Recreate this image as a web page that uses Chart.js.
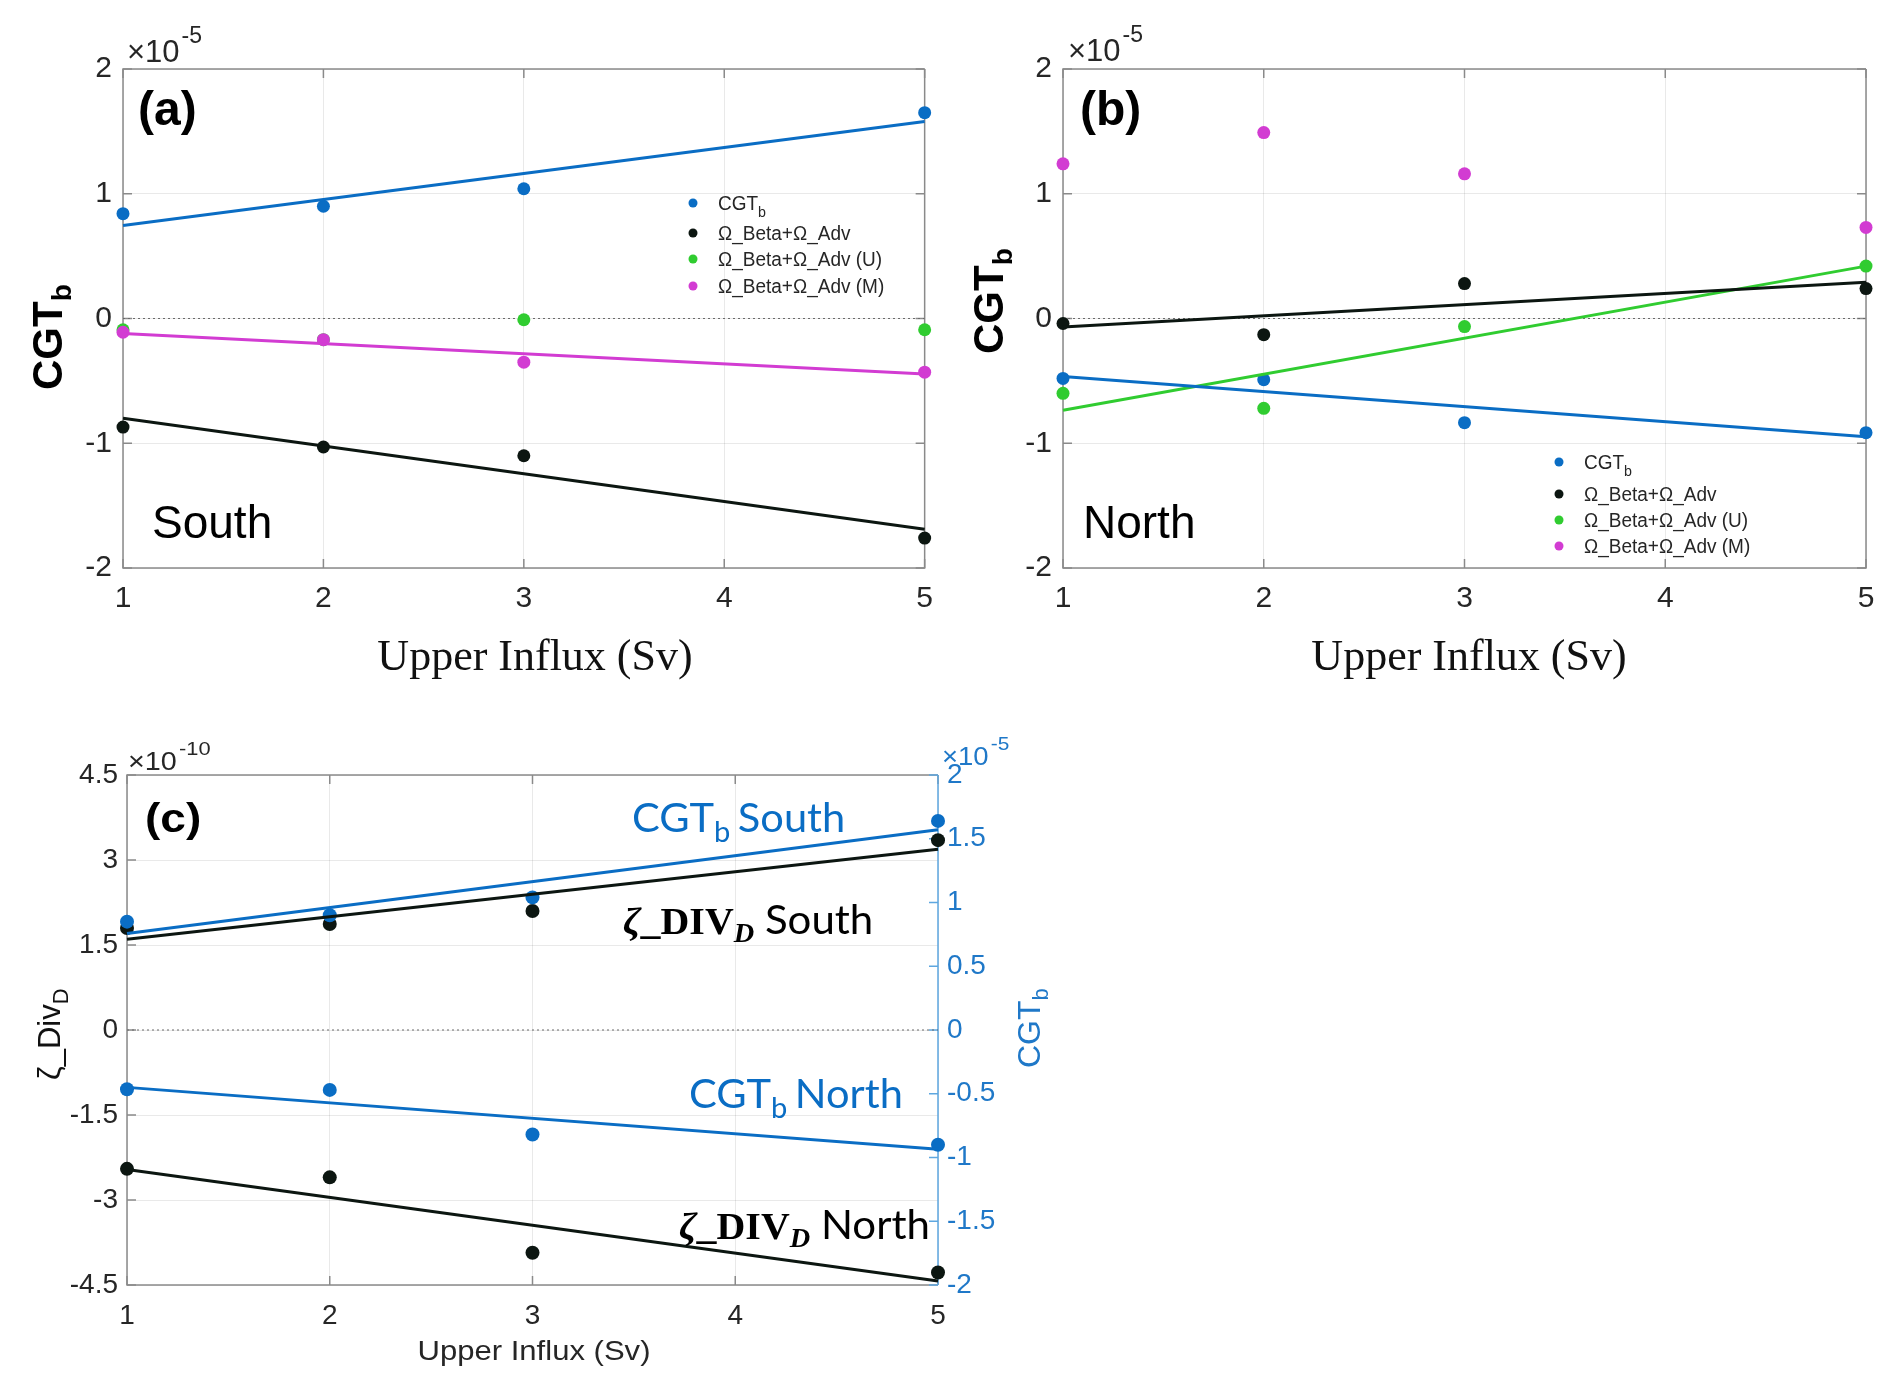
<!DOCTYPE html>
<html>
<head>
<meta charset="utf-8">
<script src="https://cdn.jsdelivr.net/npm/chart.js@4.4.1/dist/chart.umd.min.js"></script>
<style>
html, body { margin: 0; padding: 0; background: #fff; }
#wrap { position: relative; width: 1892px; height: 1384px; overflow: hidden; }
canvas { position: absolute; }
</style>
</head>
<body>
<div id="wrap">
  <canvas id="panelA" width="946" height="700" style="left:0;top:0"></canvas>
  <canvas id="panelB" width="946" height="700" style="left:946px;top:0"></canvas>
  <canvas id="panelC" width="1100" height="684" style="left:0;top:700px"></canvas>
</div>
<script>
// ---- data ----
const influx = [1, 2, 3, 5];          // Upper Influx (Sv) of the runs
const fitX = [1, 5];                  // ends of the fitted lines
const zeroRef = [0, 0];

// (a) South, units of 1e-5
const southCGT = [0.84, 0.90, 1.04, 1.65];
const southCGTFit = [0.745, 1.58];
const southBetaAdv = [-0.87, -1.03, -1.10, -1.76];
const southBetaAdvFit = [-0.80, -1.69];
const southBetaAdvU = [-0.09, -0.17, -0.01, -0.09];
const southBetaAdvM = [-0.11, -0.17, -0.35, -0.43];
const southBetaAdvMFit = [-0.12, -0.445];

// (b) North, units of 1e-5
const northCGT = [-0.48, -0.49, -0.835, -0.915];
const northCGTFit = [-0.465, -0.948];
const northBetaAdv = [-0.04, -0.13, 0.28, 0.24];
const northBetaAdvFit = [-0.068, 0.29];
const northBetaAdvU = [-0.60, -0.72, -0.065, 0.42];
const northBetaAdvUFit = [-0.735, 0.42];
const northBetaAdvM = [1.24, 1.49, 1.16, 0.73];

// (c) zeta_DIV_D (units of 1e-10, left) and CGT_b (units of 1e-5, right)
const zetaSouth = [1.80, 1.87, 2.10, 3.35];
const zetaSouthFit = [1.60, 3.19];
const zetaNorth = [-2.45, -2.60, -3.93, -4.28];
const zetaNorthFit = [-2.46, -4.43];
const cgtSouthC = [0.85, 0.90, 1.04, 1.64];
const cgtSouthCFit = [0.757, 1.57];
const cgtNorthC = [-0.465, -0.47, -0.82, -0.90];
const cgtNorthCFit = [-0.45, -0.935];

const legendLabels = ['CGT', 'Ω_Beta+Ω_Adv', 'Ω_Beta+Ω_Adv (U)', 'Ω_Beta+Ω_Adv (M)'];

// ---- styling ----
const SANS = '"Liberation Sans", Arial, sans-serif';
const SERIF = '"Liberation Serif", "Times New Roman", serif';
const CAL = 'Lato, "Open Sans", sans-serif';
const BLUE = '#0a6dc4';
const BLACK = '#0c1611';
const GREEN = '#30cc30';
const MAG = '#d23cd2';
const TXT = '#262626';
const BOX = '#8a8a8a';
const AXBLUE = '#5ea7e0';
const TICKBLUE = '#1f78c8';
const GRID = 'rgba(0,0,0,0.085)';

function pts(xs, ys) {
    return xs.map((x, i) => ({ x: x, y: ys[i] }));
}

function dots(ys, color, order, r, axis) {
    return {
        data: pts(influx, ys), showLine: false, order: order,
        pointRadius: r, pointBackgroundColor: color, pointBorderWidth: 0,
        borderColor: color, backgroundColor: color, clip: false,
        yAxisID: axis || 'y',
    };
}

function fitLine(ys, color, axis) {
    return {
        data: pts(fitX, ys), showLine: true, order: 0, pointRadius: 0,
        borderColor: color, borderWidth: 3, tension: 0, clip: false,
        yAxisID: axis || 'y',
    };
}

function zeroLine(axis) {
    return {
        data: pts(fitX, zeroRef), showLine: true, order: 20, pointRadius: 0,
        borderColor: '#6a6a6a', borderWidth: 1.2, borderDash: [2, 3],
        yAxisID: axis || 'y',
    };
}

// write several pieces of text one after another (for subscripts etc.)
function rich(ctx, parts, x, y, opt) {
    opt = opt || {};
    ctx.save();
    ctx.translate(x, y);
    if (opt.rot) ctx.rotate(opt.rot);
    ctx.scale(opt.sx || 1, 1);
    ctx.textBaseline = 'alphabetic';
    ctx.textAlign = 'left';
    let w = 0;
    parts.forEach(p => { ctx.font = p.font; w += ctx.measureText(p.t).width + (p.dx || 0); });
    let cx = opt.align === 'center' ? -w / 2 : (opt.align === 'right' ? -w : 0);
    parts.forEach(p => {
        ctx.font = p.font;
        ctx.fillStyle = p.color || TXT;
        cx += p.dx || 0;
        ctx.fillText(p.t, cx, p.dy || 0);
        cx += ctx.measureText(p.t).width;
    });
    ctx.restore();
}

// box round the axes and MATLAB style inward ticks
function drawBox(chart, rightColor, rightScale) {
    const ctx = chart.ctx;
    const a = chart.chartArea;
    const xs = chart.scales.x, ys = chart.scales.y;
    ctx.save();
    ctx.lineWidth = 1.5;
    ctx.strokeStyle = BOX;
    ctx.beginPath();
    ctx.moveTo(a.right, a.top); ctx.lineTo(a.left, a.top);
    ctx.lineTo(a.left, a.bottom); ctx.lineTo(a.right, a.bottom);
    if (!rightScale) ctx.lineTo(a.right, a.top);
    ctx.stroke();
    const tl = 9;
    ctx.beginPath();
    xs.ticks.forEach(t => {
        const px = xs.getPixelForValue(t.value);
        ctx.moveTo(px, a.bottom); ctx.lineTo(px, a.bottom - tl);
        ctx.moveTo(px, a.top); ctx.lineTo(px, a.top + tl);
    });
    ys.ticks.forEach(t => {
        const py = ys.getPixelForValue(t.value);
        ctx.moveTo(a.left, py); ctx.lineTo(a.left + tl, py);
        if (!rightScale) { ctx.moveTo(a.right, py); ctx.lineTo(a.right - tl, py); }
    });
    ctx.stroke();
    if (rightScale) {
        ctx.strokeStyle = rightColor;
        ctx.beginPath();
        ctx.moveTo(a.right, a.top); ctx.lineTo(a.right, a.bottom);
        rightScale.ticks.forEach(t => {
            const py = rightScale.getPixelForValue(t.value);
            ctx.moveTo(a.right, py); ctx.lineTo(a.right - tl, py);
        });
        ctx.stroke();
    }
    ctx.restore();
}

function drawLegend(ctx, x, rows, colors) {
    rows.forEach((ry, i) => {
        ctx.beginPath();
        ctx.fillStyle = colors[i];
        ctx.arc(x, ry, 4.5, 0, Math.PI * 2);
        ctx.fill();
        const parts = [{ t: legendLabels[i], font: '20px ' + SANS }];
        if (i === 0) parts.push({ t: 'b', font: '15px ' + SANS, dy: 7 });
        rich(ctx, parts, x + 25, ry + 7, { sx: 0.95 });
    });
}

function tickFmt(v) {
    return String(Math.round(v * 100) / 100);
}

function xScale(size, pad, h) {
    return {
        type: 'linear', min: 1, max: 5,
        ticks: { stepSize: 1, color: TXT, padding: pad, font: { family: SANS, size: size }, callback: tickFmt },
        grid: { color: GRID, drawTicks: false },
        border: { display: false },
        afterFit: s => { s.height = h; },
    };
}

function yScale(min, max, step, size, pad, w, color) {
    return {
        type: 'linear', min: min, max: max,
        ticks: { stepSize: step, color: color || TXT, padding: pad, font: { family: SANS, size: size }, callback: tickFmt },
        grid: { color: GRID, drawTicks: false },
        border: { display: false },
        afterFit: s => { s.width = w; },
    };
}

function baseOptions(padding, scales) {
    return {
        responsive: false, animation: false, events: [],
        layout: { padding: padding },
        plugins: { legend: { display: false }, tooltip: { enabled: false } },
        scales: scales,
    };
}

function exponent(ctx, x, y, exp, big, small, color, sx) {
    rich(ctx, [
        { t: '×10', font: big + 'px ' + SANS, color: color },
        { t: exp, font: small + 'px ' + SANS, color: color, dy: -big * 0.62, dx: 2 },
    ], x, y, { sx: sx || 1 });
}

// ---- (a) South ----
new Chart(document.getElementById('panelA'), {
    type: 'scatter',
    data: { datasets: [
        zeroLine(),
        dots(southCGT, BLUE, 4, 6.5),
        dots(southBetaAdv, BLACK, 3, 6.5),
        dots(southBetaAdvU, GREEN, 2, 6.5),
        dots(southBetaAdvM, MAG, 1, 6.5),
        fitLine(southCGTFit, BLUE),
        fitLine(southBetaAdvFit, BLACK),
        fitLine(southBetaAdvMFit, MAG),
    ] },
    options: baseOptions({ left: 0, top: 69, right: 20, bottom: 0 }, {
        x: xScale(30, 13, 132),
        y: yScale(-2, 2, 1, 30, 11, 123),
    }),
    plugins: [{
        id: 'decorA',
        beforeDatasetsDraw: chart => drawBox(chart),
        afterDraw: chart => {
            const ctx = chart.ctx;
            exponent(ctx, 127, 62, '-5', 31, 23, TXT);
            rich(ctx, [{ t: '(a)', font: 'bold 48px ' + SANS, color: '#000' }], 138, 125);
            rich(ctx, [{ t: 'South', font: '46px ' + SANS, color: '#000' }], 152, 538);
            drawLegend(ctx, 693, [203, 233, 259, 286], [BLUE, BLACK, GREEN, MAG]);
            rich(ctx, [
                { t: 'CGT', font: 'bold 42px ' + SANS, color: '#000' },
                { t: 'b', font: 'bold 28px ' + SANS, color: '#000', dy: 9 },
            ], 62, 390, { rot: -Math.PI / 2 });
            rich(ctx, [{ t: 'Upper Influx (Sv)', font: '44px ' + SERIF, color: '#111' }], 535, 670, { align: 'center' });
        },
    }],
});

// ---- (b) North ----
new Chart(document.getElementById('panelB'), {
    type: 'scatter',
    data: { datasets: [
        zeroLine(),
        dots(northCGT, BLUE, 4, 6.5),
        dots(northBetaAdv, BLACK, 3, 6.5),
        dots(northBetaAdvU, GREEN, 2, 6.5),
        dots(northBetaAdvM, MAG, 1, 6.5),
        fitLine(northCGTFit, BLUE),
        fitLine(northBetaAdvFit, BLACK),
        fitLine(northBetaAdvUFit, GREEN),
    ] },
    options: baseOptions({ left: 0, top: 69, right: 26, bottom: 0 }, {
        x: xScale(30, 13, 132),
        y: yScale(-2, 2, 1, 30, 11, 117),
    }),
    plugins: [{
        id: 'decorB',
        beforeDatasetsDraw: chart => drawBox(chart),
        afterDraw: chart => {
            const ctx = chart.ctx;
            exponent(ctx, 122, 61, '-5', 31, 23, TXT);
            rich(ctx, [{ t: '(b)', font: 'bold 48px ' + SANS, color: '#000' }], 134, 125);
            rich(ctx, [{ t: 'North', font: '46px ' + SANS, color: '#000' }], 137, 538);
            drawLegend(ctx, 613, [462, 494, 520, 546], [BLUE, BLACK, GREEN, MAG]);
            rich(ctx, [
                { t: 'CGT', font: 'bold 42px ' + SANS, color: '#000' },
                { t: 'b', font: 'bold 28px ' + SANS, color: '#000', dy: 9 },
            ], 57, 354, { rot: -Math.PI / 2 });
            rich(ctx, [{ t: 'Upper Influx (Sv)', font: '44px ' + SERIF, color: '#111' }], 523, 670, { align: 'center' });
        },
    }],
});

// ---- (c) zeta_DIV_D with CGT_b on the right axis ----
function zetaLabel(ctx, word, x, y) {
    rich(ctx, [
        { t: 'ζ', font: 'italic bold 38px ' + SERIF, color: '#000' },
        { t: '_DIV', font: 'bold 38px ' + SERIF, color: '#000' },
        { t: 'D', font: 'italic bold 27px ' + SERIF, color: '#000', dy: 8 },
        { t: ' ' + word, font: '40px ' + CAL, color: '#000' },
    ], x, y, { sx: 1.05 });
}

function cgtLabel(ctx, word, x, y) {
    rich(ctx, [
        { t: 'CGT', font: '40px ' + CAL, color: BLUE },
        { t: 'b', font: '28px ' + CAL, color: BLUE, dy: 10 },
        { t: ' ' + word, font: '40px ' + CAL, color: BLUE, dx: -3 },
    ], x, y, { sx: 1.04 });
}

new Chart(document.getElementById('panelC'), {
    type: 'scatter',
    data: { datasets: [
        zeroLine(),
        dots(zetaSouth, BLACK, 3, 7),
        dots(zetaNorth, BLACK, 3, 7),
        dots(cgtSouthC, BLUE, 2, 7, 'y2'),
        dots(cgtNorthC, BLUE, 2, 7, 'y2'),
        fitLine(zetaSouthFit, BLACK),
        fitLine(zetaNorthFit, BLACK),
        fitLine(cgtSouthCFit, BLUE, 'y2'),
        fitLine(cgtNorthCFit, BLUE, 'y2'),
    ] },
    options: baseOptions({ left: 0, top: 75, right: 0, bottom: 0 }, {
        x: xScale(28, 14, 99),
        y: yScale(-4.5, 4.5, 1.5, 28, 9, 127),
        y2: Object.assign(yScale(-2, 2, 0.5, 28, 9, 162, TICKBLUE), {
            position: 'right', grid: { display: false, drawTicks: false },
        }),
    }),
    plugins: [{
        id: 'decorC',
        beforeDatasetsDraw: chart => drawBox(chart, AXBLUE, chart.scales.y2),
        afterDraw: chart => {
            const ctx = chart.ctx;
            exponent(ctx, 128, 70, '-10', 25, 19, TXT, 1.15);
            exponent(ctx, 942, 65, '-5', 25, 19, TICKBLUE, 1.1);
            rich(ctx, [{ t: '(c)', font: 'bold 40px ' + SANS, color: '#000' }], 145, 132, { sx: 1.15 });
            cgtLabel(ctx, 'South', 632, 132);
            zetaLabel(ctx, 'South', 623, 234);
            cgtLabel(ctx, 'North', 689, 408);
            zetaLabel(ctx, 'North', 679, 539);
            rich(ctx, [
                { t: 'ζ_Div', font: '31px ' + SANS, color: '#111' },
                { t: 'D', font: '22px ' + SANS, color: '#111', dy: 8 },
            ], 60, 380, { rot: -Math.PI / 2 });
            rich(ctx, [
                { t: 'CGT', font: '32px ' + SANS, color: TICKBLUE },
                { t: 'b', font: '22px ' + SANS, color: TICKBLUE, dy: 8 },
            ], 1040, 368, { rot: -Math.PI / 2 });
            rich(ctx, [{ t: 'Upper Influx (Sv)', font: '27px ' + SANS, color: TXT }], 534, 660, { align: 'center', sx: 1.15 });
        },
    }],
});
</script>
</body>
</html>
